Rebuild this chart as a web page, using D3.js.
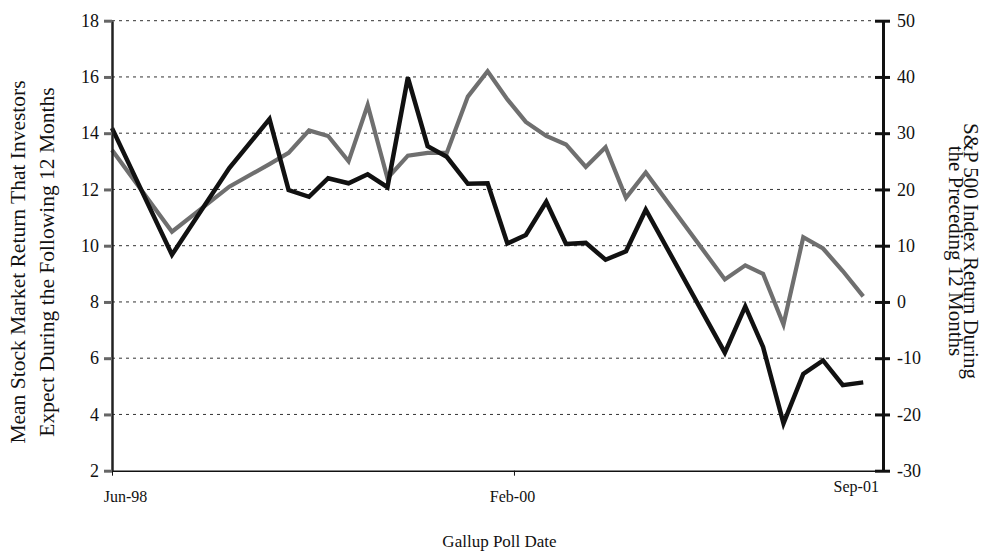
<!doctype html>
<html>
<head>
    <meta charset="utf-8">
    <script src="https://cdnjs.cloudflare.com/ajax/libs/d3/7.8.5/d3.min.js"></script>
    <style>
        body { margin: 0; background: #fff; }
        svg text { font-family: "Liberation Serif", "Times New Roman", serif; fill: #111; }
        .grid line { stroke: #333; stroke-width: 1; stroke-dasharray: 3,4; }
    </style>
</head>
<body>
<script>
    // Gallup poll dates
    var pollDates = [
        "1998-06-01", "1998-08-31", "1998-11-26", "1999-01-26", "1999-02-24",
        "1999-03-27", "1999-04-25", "1999-05-26", "1999-06-24", "1999-07-24",
        "1999-08-24", "1999-09-23", "1999-10-22", "1999-11-23", "1999-12-23",
        "2000-01-22", "2000-02-19", "2000-03-21", "2000-04-20", "2000-05-20",
        "2000-06-19", "2000-07-20", "2000-08-19", "2000-12-17", "2001-01-17",
        "2001-02-13", "2001-03-16", "2001-04-15", "2001-05-15", "2001-06-14",
        "2001-07-15"
    ];
    // mean expected return (left axis), grey line
    var expectedReturn = [
        13.4, 10.5, 12.1, 12.9, 13.3,
        14.1, 13.9, 13.0, 15.0, 12.4,
        13.2, 13.3, 13.3, 15.3, 16.2,
        15.2, 14.4, 13.9, 13.6, 12.8,
        13.5, 11.7, 12.6, 8.8, 9.3,
        9.0, 7.2, 10.3, 9.9, 9.1,
        8.2
    ];
    // S&P 500 trailing 12 month return (right axis), black line
    var spReturn = [
        30.9, 8.4, 23.8, 32.5, 19.9,
        18.7, 22.0, 21.1, 22.7, 20.4,
        39.9, 27.7, 25.8, 21.0, 21.1,
        10.4, 11.9, 17.8, 10.3, 10.5,
        7.5, 9.0, 16.4, -9.0, -0.8,
        -8.0, -21.6, -12.8, -10.4, -14.8,
        -14.3
    ];
    var leftTicks = [2, 4, 6, 8, 10, 12, 14, 16, 18];
    var rightTicks = [-30, -20, -10, 0, 10, 20, 30, 40, 50];
    var xTickDates = ["1998-06-01", "2000-02-01"];
    var xTickLabels = ["Jun-98", "Feb-00"];
    var endLabel = "Sep-01";

    var parse = d3.timeParse("%Y-%m-%d");
    var data = pollDates.map(function(d, i) {
        return { date: parse(d), expected: expectedReturn[i], sp: spReturn[i] };
    });

    var width = 982, height = 555;
    var plot = { left: 112, right: 883, top: 20.7, bottom: 470.7 };

    var x = d3.scaleTime()
        .domain([parse("1998-06-01"), parse("2001-08-14")])
        .range([plot.left, plot.right]);
    var yL = d3.scaleLinear().domain([2, 18]).range([plot.bottom, plot.top]);
    var yR = d3.scaleLinear().domain([-30, 50]).range([plot.bottom, plot.top]);

    var svg = d3.select("body").append("svg")
        .attr("width", width)
        .attr("height", height);

    // dotted gridlines
    svg.append("g")
        .attr("class", "grid")
        .selectAll("line")
        .data(leftTicks.slice(1))
        .enter().append("line")
        .attr("x1", plot.left)
        .attr("x2", plot.right)
        .attr("y1", function(d) { return yL(d); })
        .attr("y2", function(d) { return yL(d); });

    // lines
    var lineL = d3.line()
        .x(function(d) { return x(d.date); })
        .y(function(d) { return yL(d.expected); });
    var lineR = d3.line()
        .x(function(d) { return x(d.date); })
        .y(function(d) { return yR(d.sp); });

    svg.append("path")
        .datum(data)
        .attr("d", lineL)
        .attr("fill", "none")
        .attr("stroke", "#6f6f6f")
        .attr("stroke-width", 4.2)
        .attr("stroke-linejoin", "miter");

    svg.append("path")
        .datum(data)
        .attr("d", lineR)
        .attr("fill", "none")
        .attr("stroke", "#111")
        .attr("stroke-width", 4.5)
        .attr("stroke-linejoin", "miter");

    // bottom axis
    var xAxis = d3.axisBottom(x)
        .tickValues(xTickDates.map(parse))
        .tickFormat(function(d, i) { return xTickLabels[i]; })
        .tickSize(5)
        .tickSizeOuter(0);
    var gx = svg.append("g")
        .attr("transform", "translate(0," + plot.bottom + ")")
        .call(xAxis);
    gx.select(".domain").attr("stroke", "#111").attr("stroke-width", 1.5);
    gx.selectAll(".tick line").attr("stroke", "#111");
    gx.selectAll(".tick text")
        .attr("font-size", 16)
        .attr("dy", "1.45em")
        .attr("dx", function(d, i) { return i === 0 ? 13 : -2; });
    svg.append("text")
        .attr("x", x(data[data.length - 1].date) - 7)
        .attr("y", 492)
        .attr("text-anchor", "middle")
        .attr("font-size", 16)
        .text(endLabel);

    // left axis
    var gl = svg.append("g")
        .attr("transform", "translate(" + plot.left + ",0)")
        .call(d3.axisLeft(yL).tickValues(leftTicks).tickSize(8).tickSizeOuter(0).tickPadding(5));
    gl.select(".domain").attr("stroke", "#222").attr("stroke-width", 2.5);
    gl.selectAll(".tick line").attr("stroke", "#666").attr("stroke-width", 3);
    gl.selectAll(".tick text").attr("font-size", 18);

    // right axis, plain hyphen for negatives
    var gr = svg.append("g")
        .attr("transform", "translate(" + plot.right + ",0)")
        .call(d3.axisRight(yR).tickValues(rightTicks)
            .tickFormat(function(d) { return String(d); })
            .tickSize(7).tickSizeOuter(0).tickPadding(7));
    gr.select(".domain").attr("stroke", "#111").attr("stroke-width", 3);
    gr.selectAll(".tick line").attr("stroke", "#111").attr("stroke-width", 3).attr("x1", -8);
    gr.selectAll(".tick text").attr("font-size", 18);

    // axis titles
    svg.append("text")
        .attr("x", (plot.left + plot.right) / 2 + 2)
        .attr("y", 547)
        .attr("text-anchor", "middle")
        .attr("font-size", 17)
        .text("Gallup Poll Date");

    var leftTitle = svg.append("text")
        .attr("transform", "translate(25,262) rotate(-90)")
        .attr("text-anchor", "middle")
        .attr("font-size", 21.5);
    leftTitle.append("tspan").attr("x", 0).attr("y", 0).text("Mean Stock Market Return That Investors");
    leftTitle.append("tspan").attr("x", 0).attr("y", 29).text("Expect During the Following 12 Months");

    var rightTitle = svg.append("text")
        .attr("transform", "translate(964,251) rotate(90)")
        .attr("text-anchor", "middle")
        .attr("font-size", 21);
    rightTitle.append("tspan").attr("x", 0).attr("y", 0).text("S&P 500 Index Return During");
    rightTitle.append("tspan").attr("x", 0).attr("y", 15).text("the Preceding 12 Months");
</script>
</body>
</html>
